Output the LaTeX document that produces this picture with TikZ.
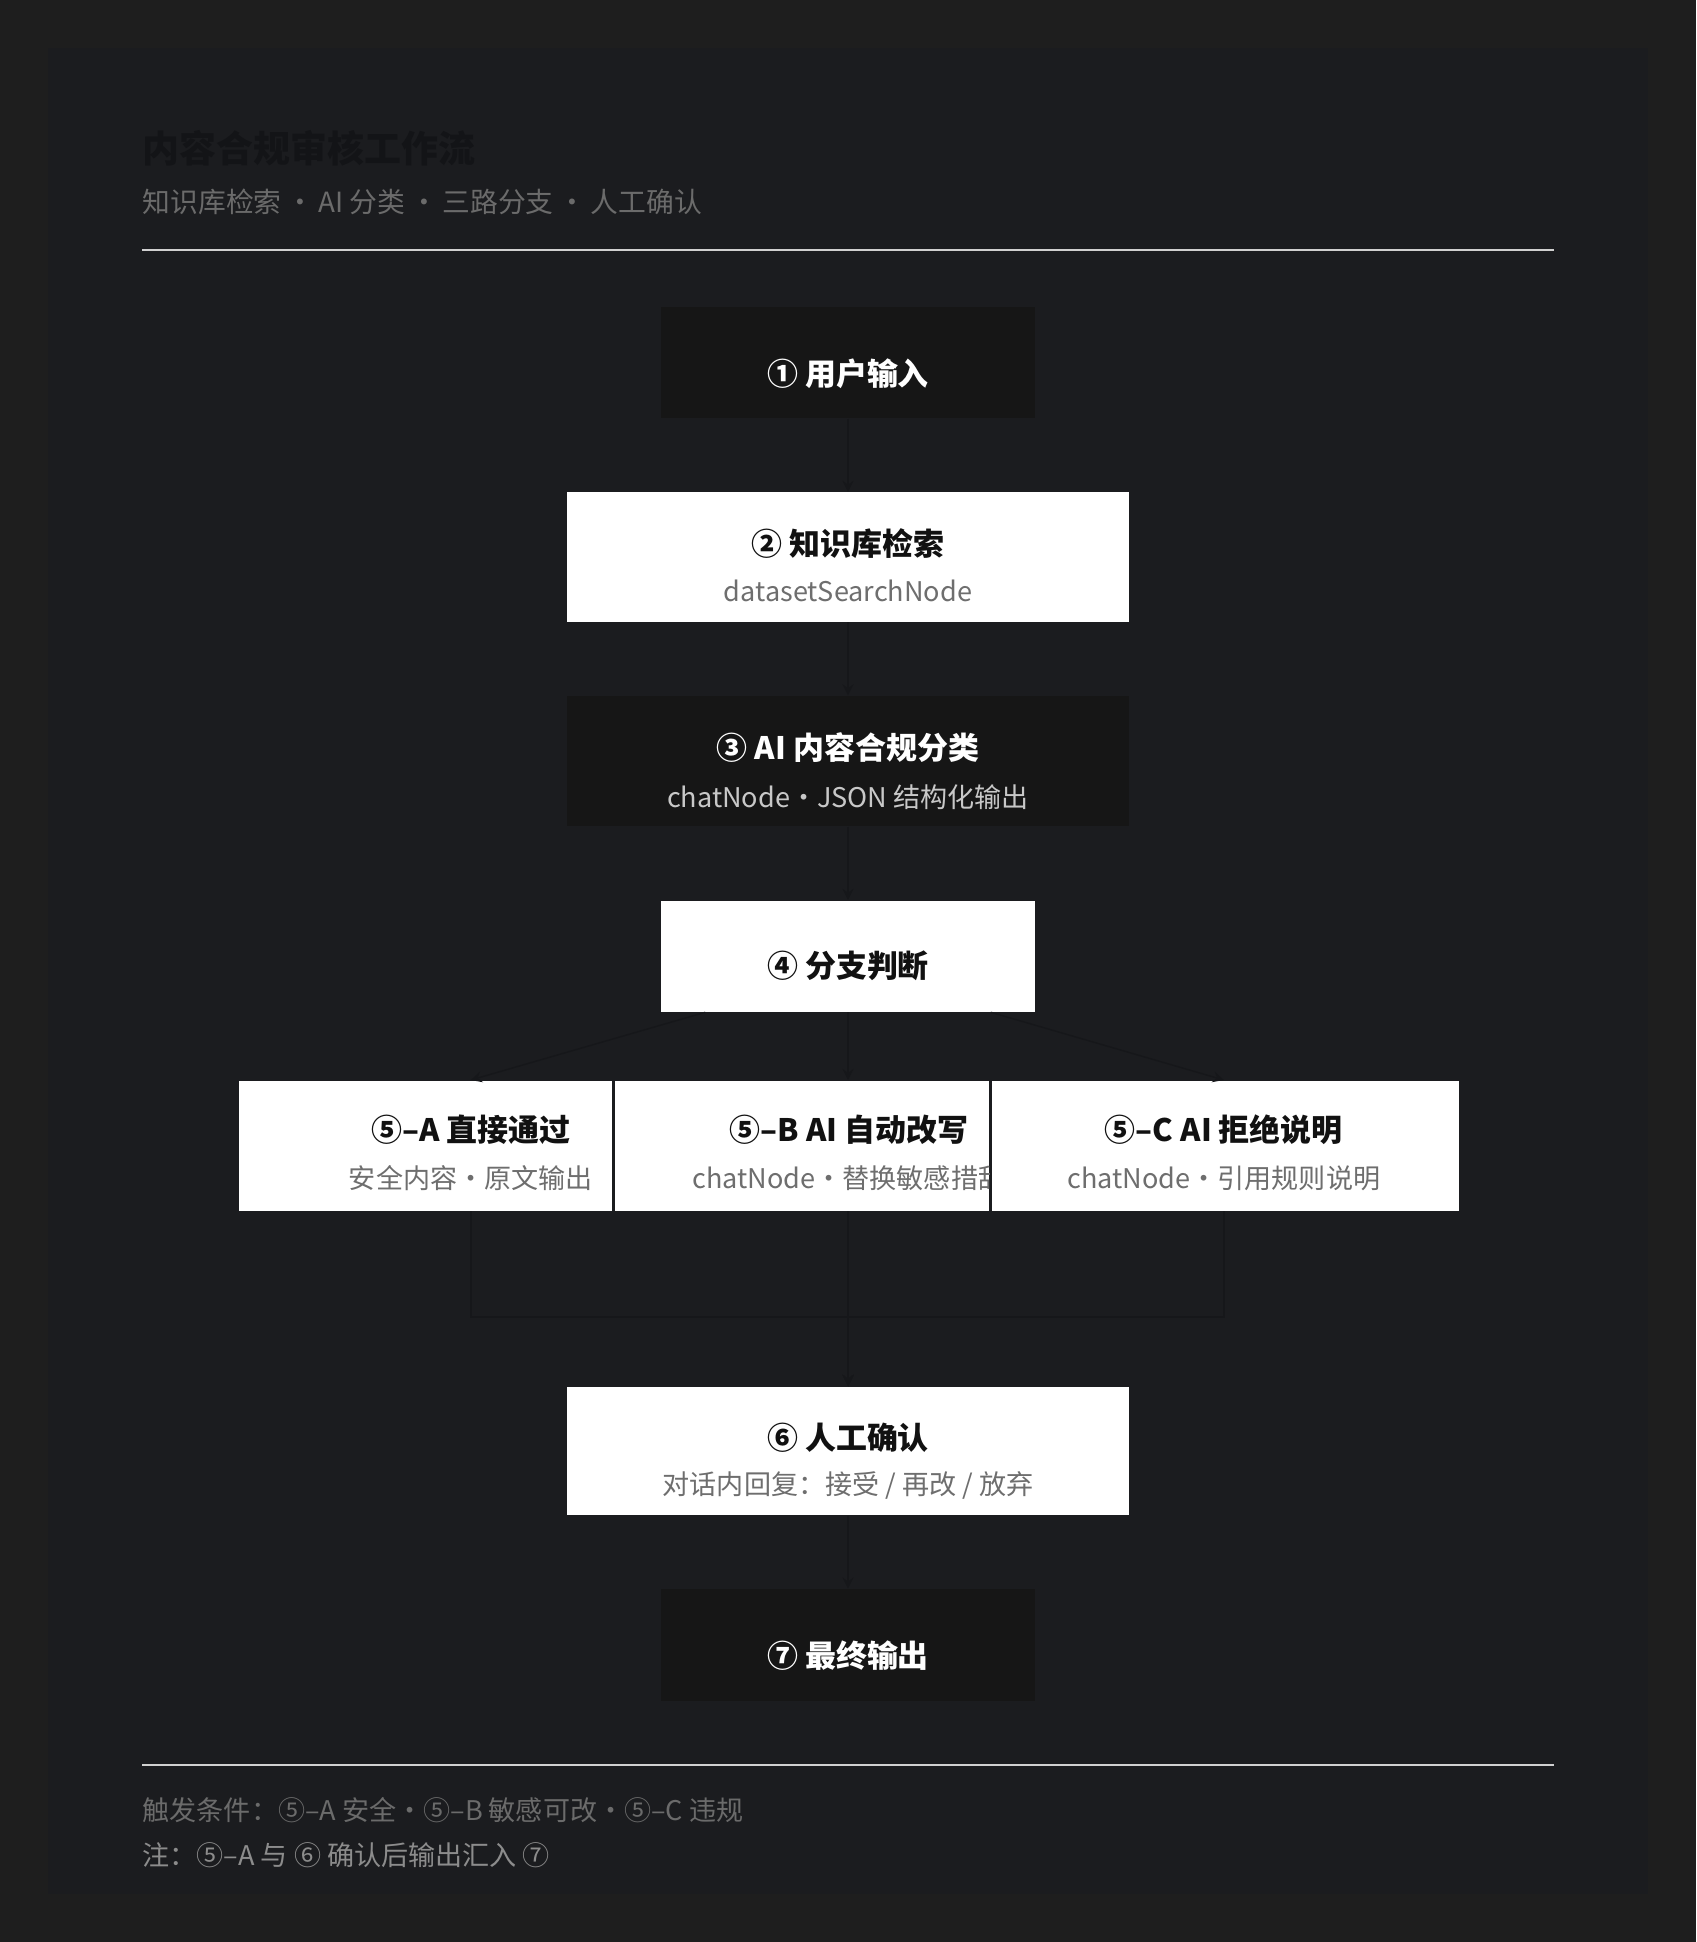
\documentclass[tikz,border=0pt]{standalone}
\usepackage{fontspec}
\setmainfont{Noto Sans CJK SC}
\usetikzlibrary{arrows, calc, positioning}
\definecolor{pagebg}{HTML}{1E1E1E}
\definecolor{panelbg}{HTML}{1B1C1F}
\definecolor{darkfill}{HTML}{161616}
\definecolor{linkcol}{HTML}{16171A}
\definecolor{headcol}{HTML}{131417}
\definecolor{greytext}{HTML}{6B6B6B}
\definecolor{notetext}{HTML}{8C8C8C}
\definecolor{rulecol}{HTML}{D0D0D0}
\definecolor{inktext}{HTML}{111111}
\definecolor{subink}{HTML}{6E6E6E}
\definecolor{lighttext}{HTML}{C8C8C8}
\tikzstyle{whitebox} = [rectangle, fill=white, inner sep=0pt, minimum width=3.74cm, minimum height=1.30cm]
\tikzstyle{darkbox} = [rectangle, fill=darkfill, inner sep=0pt, minimum width=3.74cm, minimum height=1.11cm]
\tikzstyle{darktitle} = [inner sep=0pt, text=white, font=\fontsize{8.8}{10}\selectfont\bfseries]
\tikzstyle{darksub} = [inner sep=0pt, text=lighttext, font=\fontsize{7.7}{9}\selectfont]
\tikzstyle{inktitle} = [inner sep=0pt, text=inktext, font=\fontsize{8.8}{10}\selectfont\bfseries]
\tikzstyle{inksub} = [inner sep=0pt, text=subink, font=\fontsize{7.7}{9}\selectfont]
\tikzstyle{headtitle} = [inner sep=0pt, anchor=west, text=headcol, font=\fontsize{10.5}{12}\selectfont\bfseries]
\tikzstyle{headsub} = [inner sep=0pt, anchor=west, text=greytext, font=\fontsize{7.9}{9}\selectfont]
\tikzstyle{footnote} = [inner sep=0pt, anchor=west, text=greytext, font=\fontsize{7.7}{9}\selectfont]
\tikzstyle{rule} = [draw=rulecol, line width=0.6pt]
\tikzstyle{arrow} = [draw=linkcol, line width=0.4pt, ->, >=stealth]

\begin{document}
\begin{tikzpicture}[x=0.01cm, y=-0.01cm, node distance=0.73cm]
		\fill [pagebg] (0,0) rectangle (1696,1942);
		\fill [panelbg] (48,48) rectangle (1648,1894);
		\node (Title) [headtitle] at (142,148) {内容合规审核工作流};
		\node (Subtitle) [headsub] at (142,202) {知识库检索\,·\,AI 分类\,·\,三路分支\,·\,人工确认};
		\draw [rule] (142,250) -- (1554,250);
		\node (Input) [darkbox] at (848,362.5) {};
		\node (Search) [whitebox, minimum width=5.62cm, minimum height=1.29cm, below = of Input] {};
		\node (Classify) [darkbox, minimum width=5.62cm, minimum height=1.30cm, below = of Search] {};
		\node (Judge) [whitebox, minimum height=1.11cm, below = of Classify] {};
		\node (Pass) [whitebox, minimum width=3.73cm, anchor=north west] at (238,1080) {};
		\node (Rewrite) [whitebox, anchor=north west] at (614,1080) {};
		\node (Reject) [whitebox, minimum width=4.67cm, anchor=north west] at (991,1080) {};
		\node (Review) [whitebox, minimum width=5.62cm, minimum height=1.28cm, anchor=north] at (848,1386) {};
		\node (Output) [darkbox, minimum height=1.12cm, below = of Review] {};
		\node (InputT) [darktitle] at ([yshift=-0.67cm]Input.north) {① 用户输入};
		\node (SearchT) [inktitle] at ([yshift=-0.52cm]Search.north) {② 知识库检索};
		\node (SearchS) [inksub] at ([yshift=-0.99cm]Search.north) {datasetSearchNode};
		\node (ClassifyT) [darktitle] at ([yshift=-0.52cm]Classify.north) {③ AI 内容合规分类};
		\node (ClassifyS) [darksub] at ([yshift=-1.02cm]Classify.north) {chatNode·JSON 结构化输出};
		\node (JudgeT) [inktitle] at ([yshift=-0.66cm]Judge.north) {④ 分支判断};
		\node (PassT) [inktitle] at ([xshift=0.455cm, yshift=-0.50cm]Pass.north) {⑤–A 直接通过};
		\node (PassS) [inksub] at ([xshift=0.455cm, yshift=-0.98cm]Pass.north) {安全内容·原文输出};
		\node (RewriteT) [inktitle] at ([xshift=0.47cm, yshift=-0.50cm]Rewrite.north) {⑤–B AI 自动改写};
		\begin{scope}
		\clip (Rewrite.south west) rectangle (Rewrite.north east);
		\node (RewriteS) [inksub] at ([xshift=0.47cm, yshift=-0.98cm]Rewrite.north) {chatNode·替换敏感措辞};
		\end{scope}
		\node (RejectT) [inktitle] at ([xshift=-0.015cm, yshift=-0.50cm]Reject.north) {⑤–C AI 拒绝说明};
		\node (RejectS) [inksub] at ([xshift=-0.015cm, yshift=-0.98cm]Reject.north) {chatNode·引用规则说明};
		\node (ReviewT) [inktitle] at ([yshift=-0.52cm]Review.north) {⑥ 人工确认};
		\node (ReviewS) [inksub] at ([yshift=-0.99cm]Review.north) {对话内回复：接受 / 再改 / 放弃};
		\node (OutputT) [darktitle] at ([yshift=-0.67cm]Output.north) {⑦ 最终输出};
		\coordinate (Merge) at (848,1317);
		\draw [arrow] (Input) -- (Search);
		\draw [arrow] (Search) -- (Classify);
		\draw [arrow] (Classify) -- (Judge);
		\draw [arrow] (Judge) -- (Judge |- Rewrite.north);
		\draw [arrow] ([xshift=0.45cm]Judge.south west) -- (PassT |- Pass.north);
		\draw [arrow] ([xshift=-0.45cm]Judge.south east) -- (RejectT |- Reject.north);
		\draw [arrow] (PassT |- Pass.south) -- (PassT |- Merge) -| (Review.north);
		\draw [arrow] (RejectT |- Reject.south) -- (RejectT |- Merge) -| (Review.north);
		\draw [arrow] (Judge |- Rewrite.south) -- (Review);
		\draw [arrow] (Review) -- (Output);
		\draw [rule] (142,1765) -- (1554,1765);
		\node (Trigger) [footnote] at (142,1810) {触发条件：⑤–A 安全·⑤–B 敏感可改·⑤–C 违规};
		\node (Note) [footnote, text=notetext] at (142,1855) {注：⑤–A 与 ⑥ 确认后输出汇入 ⑦};
		\end{tikzpicture}
\end{document}
